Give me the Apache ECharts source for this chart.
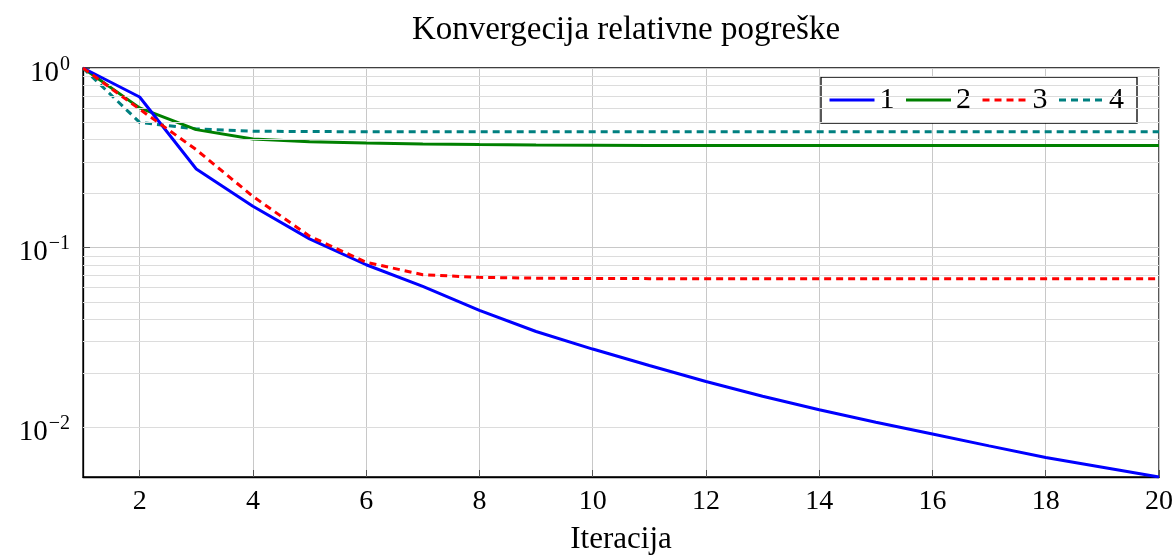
<!DOCTYPE html>
<html>
<head>
<meta charset="utf-8">
<script src="https://cdn.jsdelivr.net/npm/echarts@6/dist/echarts.min.js"></script>
<style>
  html, body { margin: 0; padding: 0; background: #fff; }
  #chart { width: 1176px; height: 556px; }
</style>
</head>
<body>
<div id="chart"></div>
<script>
// Iteration index
const iterations = [1, 2, 3, 4, 5, 6, 7, 8, 9, 10, 11, 12, 13, 14, 15, 16, 17, 18, 19, 20];

// Relative error per iteration for the four runs
const err1 = [1.0, 0.69, 0.274, 0.170, 0.112, 0.0804, 0.0609, 0.0448, 0.0342, 0.0273,
              0.0221, 0.0180, 0.0149, 0.01254, 0.0107, 0.0092, 0.0079, 0.0068, 0.0060, 0.0053];
const err2 = [1.0, 0.60, 0.454, 0.403, 0.389, 0.383, 0.378, 0.375, 0.373, 0.372,
              0.371, 0.371, 0.370, 0.370, 0.370, 0.370, 0.370, 0.370, 0.370, 0.370];
const err3 = [1.0, 0.59, 0.351, 0.193, 0.116, 0.083, 0.0708, 0.0684, 0.0677, 0.0674,
              0.0673, 0.0672, 0.0672, 0.0672, 0.0672, 0.0672, 0.0672, 0.0672, 0.0672, 0.0672];
const err4 = [1.0, 0.498, 0.458, 0.445, 0.443, 0.442, 0.442, 0.442, 0.442, 0.442,
              0.442, 0.442, 0.442, 0.442, 0.442, 0.442, 0.442, 0.442, 0.442, 0.442];

const seriesNames = ['1', '2', '3', '4'];

// Axis ticks
const xTicks = [2, 4, 6, 8, 10, 12, 14, 16, 18, 20];
const yMinorGrid = [0.006, 0.007, 0.008, 0.009,
                    0.02, 0.03, 0.04, 0.05, 0.06, 0.07, 0.08, 0.09,
                    0.2, 0.3, 0.4, 0.5, 0.6, 0.7, 0.8, 0.9];

const FONT = 'Liberation Serif';
const LW = 3;

const pairs = arr => iterations.map((x, i) => [x, arr[i]]);

const chart = echarts.init(document.getElementById('chart'), null, { renderer: 'canvas' });

chart.setOption({
  backgroundColor: '#ffffff',
  animation: false,
  title: {
    text: 'Konvergecija relativne pogreške',
    left: 621,
    textAlign: 'center',
    top: 9,
    textStyle: { fontFamily: FONT, fontSize: 33, fontWeight: 'normal', color: '#000' }
  },
  legend: {
    right: 39,
    top: 77,
    orient: 'horizontal',
    itemWidth: 45,
    itemHeight: 14,
    itemGap: 10,
    padding: [8, 13, 8, 7],
    borderColor: '#000',
    borderWidth: 1.3,
    backgroundColor: '#fff',
    itemStyle: { opacity: 0 },
    lineStyle: { width: LW },
    textStyle: { fontFamily: FONT, fontSize: 30, color: '#000', lineHeight: 30 },
    data: seriesNames
  },
  grid: {
    left: 83,
    right: 17,
    top: 68,
    bottom: 79,
    show: true,
    borderColor: '#000',
    borderWidth: 1.3,
    containLabel: false,
    outerBoundsMode: 'none'
  },
  xAxis: {
    type: 'value',
    min: 1,
    max: 20,
    name: 'Iteracija',
    nameLocation: 'middle',
    nameGap: 47,
    nameTextStyle: { fontFamily: FONT, fontSize: 31, color: '#000' },
    axisLine: { show: true, lineStyle: { color: '#000', width: 1.3 } },
    axisTick: { show: true, inside: true, length: 7, customValues: xTicks, lineStyle: { color: '#555' } },
    axisLabel: { customValues: xTicks, fontFamily: FONT, fontSize: 28, color: '#000', margin: 11 },
    splitLine: { show: true, lineStyle: { color: '#c8c8c8', width: 1 } }
  },
  yAxis: {
    type: 'log',
    logBase: 10,
    min: 'dataMin',
    max: 1,
    axisLine: { show: true, lineStyle: { color: '#000', width: 1.3 } },
    axisTick: { show: true, inside: true, length: 7, lineStyle: { color: '#555' } },
    splitLine: { show: true, lineStyle: { color: '#c8c8c8', width: 1 } },
    axisLabel: {
      showMinLabel: false,
      margin: 13,
      padding: [7, 0, 0, 0],
      formatter: function (v) {
        const e = Math.log10(v);
        if (Math.abs(e - Math.round(e)) > 1e-6) return '';
        const k = Math.round(e);
        return '{b|10}{s|' + (k < 0 ? '\u2212' + (-k) : k) + '}';
      },
      rich: {
        b: { fontFamily: FONT, fontSize: 29, color: '#000', verticalAlign: 'bottom', lineHeight: 32, padding: [0, 0, 0, 0] },
        s: { fontFamily: FONT, fontSize: 20, color: '#000', verticalAlign: 'bottom', lineHeight: 32, padding: [0, 0, 13, 1] }
      }
    }
  },
  series: [
    {
      name: '1', type: 'line', data: pairs(err1), symbol: 'none',
      lineStyle: { color: '#0000ff', width: LW }, itemStyle: { color: '#0000ff' }, z: 5,
      markLine: {
        silent: true, symbol: 'none', label: { show: false }, animation: false,
        lineStyle: { color: '#dcdcdc', width: 1, type: 'solid' },
        data: yMinorGrid.map(v => ({ yAxis: v }))
      }
    },
    {
      name: '2', type: 'line', data: pairs(err2), symbol: 'none',
      lineStyle: { color: '#008000', width: LW }, itemStyle: { color: '#008000' }, z: 4
    },
    {
      name: '3', type: 'line', data: pairs(err3), symbol: 'none',
      lineStyle: { color: '#ff0000', width: LW, type: [7, 5] }, itemStyle: { color: '#ff0000' }, z: 6
    },
    {
      name: '4', type: 'line', data: pairs(err4), symbol: 'none',
      lineStyle: { color: '#008080', width: LW, type: [7, 5] }, itemStyle: { color: '#008080' }, z: 3
    }
  ]
});
</script>
</body>
</html>
